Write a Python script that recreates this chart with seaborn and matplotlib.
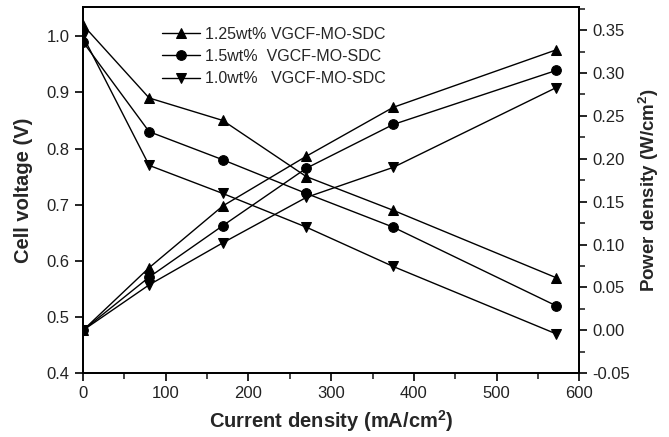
import numpy as np
import pandas as pd
import matplotlib.pyplot as plt
import seaborn as sns
from matplotlib.ticker import MultipleLocator

sns.set_style("ticks")
plt.rcParams['font.family'] = ['Liberation Sans', 'DejaVu Sans']
plt.rcParams['mathtext.fontset'] = 'custom'
plt.rcParams['mathtext.rm'] = 'Liberation Sans'
plt.rcParams['mathtext.bf'] = 'Liberation Sans:bold'

# data
current = [0, 80, 169, 270, 375, 572]
labels = ['1.25wt% VGCF-MO-SDC', '1.5wt%  VGCF-MO-SDC', '1.0wt%   VGCF-MO-SDC']
markers = ['^', 'o', 'v']
voltage = [
    [1.02, 0.89, 0.85, 0.75, 0.69, 0.57],
    [0.99, 0.83, 0.78, 0.72, 0.66, 0.52],
    [1.00, 0.77, 0.72, 0.66, 0.59, 0.47],
]
power = [
    [0.0, 0.073, 0.145, 0.203, 0.260, 0.327],
    [0.0, 0.062, 0.122, 0.189, 0.240, 0.303],
    [0.0, 0.053, 0.102, 0.155, 0.190, 0.283],
]

fig, ax = plt.subplots(figsize=(6.69, 4.37), dpi=100)
fig.subplots_adjust(left=0.124, right=0.866, top=0.984, bottom=0.146)
ax2 = ax.twinx()

for lab, m, v, p in zip(labels, markers, voltage, power):
    df = pd.DataFrame({'current': current, 'voltage': v, 'power': p})
    sns.lineplot(data=df, x='current', y='voltage', ax=ax, color='black',
                 marker=m, markersize=7, markeredgecolor='black',
                 linewidth=1, label=lab)
    sns.lineplot(data=df, x='current', y='power', ax=ax2, color='black',
                 marker=m, markersize=7, markeredgecolor='black',
                 linewidth=1, legend=False)

ax.set_xlim(0, 600)
ax.set_ylim(0.4, 1.052)
ax2.set_ylim(-0.05, 0.377)

ax.xaxis.set_major_locator(MultipleLocator(100))
ax.xaxis.set_minor_locator(MultipleLocator(50))
ax.yaxis.set_major_locator(MultipleLocator(0.1))
ax2.yaxis.set_major_locator(MultipleLocator(0.05))
ax2.yaxis.set_minor_locator(MultipleLocator(0.025))
ax.yaxis.set_major_formatter(plt.FormatStrFormatter('%.1f'))
ax2.yaxis.set_major_formatter(plt.FormatStrFormatter('%.2f'))

for a in (ax, ax2):
    a.tick_params(which='major', direction='out', length=6, width=1.2,
                  labelsize=12, colors='black', labelcolor='#222222')
    a.tick_params(which='minor', direction='out', length=4, width=1.2)
    for s in a.spines.values():
        s.set_linewidth(1.3)
        s.set_color('black')

ax.set_xlabel(r'Current density (mA/cm$\mathbf{^2}$)', fontsize=14.5,
              fontweight='bold', labelpad=5)
ax.set_ylabel('Cell voltage (V)', fontsize=14.5, fontweight='bold', labelpad=10)
ax2.set_ylabel(r'Power density (W/cm$\mathbf{^2}$)', fontsize=13.5,
               fontweight='bold', labelpad=5)

leg = ax.legend(loc='upper left', bbox_to_anchor=(0.13, 0.985), frameon=False,
                fontsize=11.5, handlelength=2.4, handletextpad=0.3,
                labelspacing=0.45)

plt.savefig('out.png', dpi=100)
